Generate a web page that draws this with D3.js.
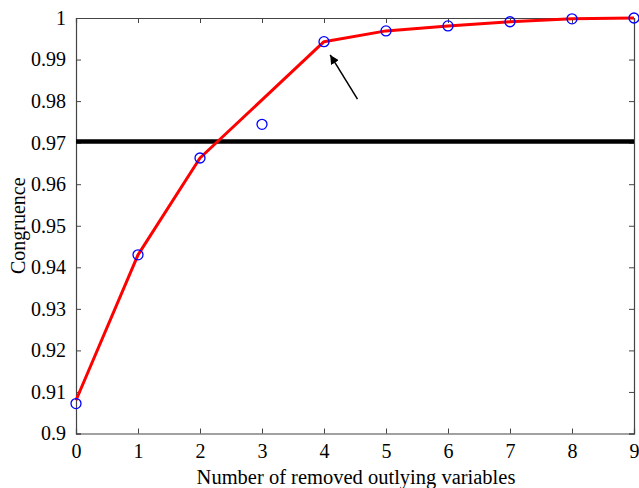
<!DOCTYPE html>
<html><head><meta charset="utf-8">
<script src="https://cdn.jsdelivr.net/npm/d3@7/dist/d3.min.js"></script>
<style>body{margin:0;background:#fff}svg{display:block}text{font-family:"Liberation Serif","Times New Roman",serif;fill:#000}</style>
</head><body>
<svg id="c" width="639" height="488"></svg>
<script>
const xValues = [0,1,2,3,4,5,6,7,8,9];
const circleValues = [0.9072,0.9430,0.9663,0.9744,0.9943,0.9969,0.9981,0.9991,0.9998,1.0000];
const lineValues = [0.9080,0.9430,0.9663,0.9803,0.9943,0.9969,0.9981,0.9991,0.9998,1.0000];
const thresholdValue = 0.9703;
const xTicks = [0,1,2,3,4,5,6,7,8,9];
const yTicks = [0.9,0.91,0.92,0.93,0.94,0.95,0.96,0.97,0.98,0.99,1];
const arrowFrom = [4.54, 0.9805];
const arrowTo = [4.10, 0.9911];
const xLabel = "Number of removed outlying variables";
const yLabel = "Congruence";

const L=76,R=634,T=18,B=433.5;
const svg=d3.select("#c");
const x=d3.scaleLinear().domain([0,9]).range([L,R]);
const y=d3.scaleLinear().domain([0.9,1]).range([B,T]);
const fs=20;

// axes with inward ticks
const gx=svg.append("g").attr("transform",`translate(0,${B})`)
  .call(d3.axisBottom(x).tickValues(xTicks).tickSize(-5).tickPadding(10).tickFormat(d3.format("d")));
const gxt=svg.append("g").attr("transform",`translate(0,${T})`)
  .call(d3.axisTop(x).tickValues(xTicks).tickSize(-5).tickFormat(""));
const gy=svg.append("g").attr("transform",`translate(${L},0)`)
  .call(d3.axisLeft(y).tickValues(yTicks).tickSize(-5).tickPadding(10).tickFormat(d=>d===1?"1":(d===0.9?"0.9":d3.format(".2f")(d))));
const gyr=svg.append("g").attr("transform",`translate(${R},0)`)
  .call(d3.axisRight(y).tickValues(yTicks).tickSize(-5).tickFormat(""));
[gx,gxt,gy,gyr].forEach(g=>{
  g.selectAll("path").attr("stroke","#444").attr("stroke-width",1.2);
  g.selectAll("line").attr("stroke","#444").attr("stroke-width",1);
  g.selectAll("text").attr("font-size",fs).attr("font-family","Liberation Serif").attr("fill","#000");
});

// threshold line
svg.append("line").attr("x1",x(0)).attr("x2",x(9)).attr("y1",y(thresholdValue)).attr("y2",y(thresholdValue))
  .attr("stroke","#000").attr("stroke-width",4.5);

// red line
svg.append("path").datum(xValues.map((d,i)=>[d,lineValues[i]]))
  .attr("d",d3.line().x(d=>x(d[0])).y(d=>y(d[1])))
  .attr("fill","none").attr("stroke","#ff0000").attr("stroke-width",3).attr("stroke-linejoin","round");

// circles
svg.append("g").selectAll("circle").data(xValues).join("circle")
  .attr("cx",d=>x(d)).attr("cy",(d,i)=>y(circleValues[i])).attr("r",5)
  .attr("fill","none").attr("stroke","#0000ff").attr("stroke-width",1.3);

// arrow
svg.append("defs").append("marker").attr("id","ah").attr("viewBox","0 0 10 10").attr("refX",10).attr("refY",5)
  .attr("markerWidth",9).attr("markerHeight",9).attr("markerUnits","userSpaceOnUse").attr("orient","auto")
  .append("path").attr("d","M0,0 L10,5 L0,10 z").attr("fill","#000");
svg.append("line").attr("x1",x(arrowFrom[0])).attr("y1",y(arrowFrom[1])).attr("x2",x(arrowTo[0])).attr("y2",y(arrowTo[1]))
  .attr("stroke","#000").attr("stroke-width",1.5).attr("marker-end","url(#ah)");

// labels
svg.append("text").attr("x",356).attr("y",484).attr("text-anchor","middle").attr("font-size",20.5).text(xLabel);
svg.append("text").attr("transform",`translate(25,${(T+B)/2}) rotate(-90)`).attr("text-anchor","middle").attr("font-size",fs).text(yLabel);
</script>
</body></html>
